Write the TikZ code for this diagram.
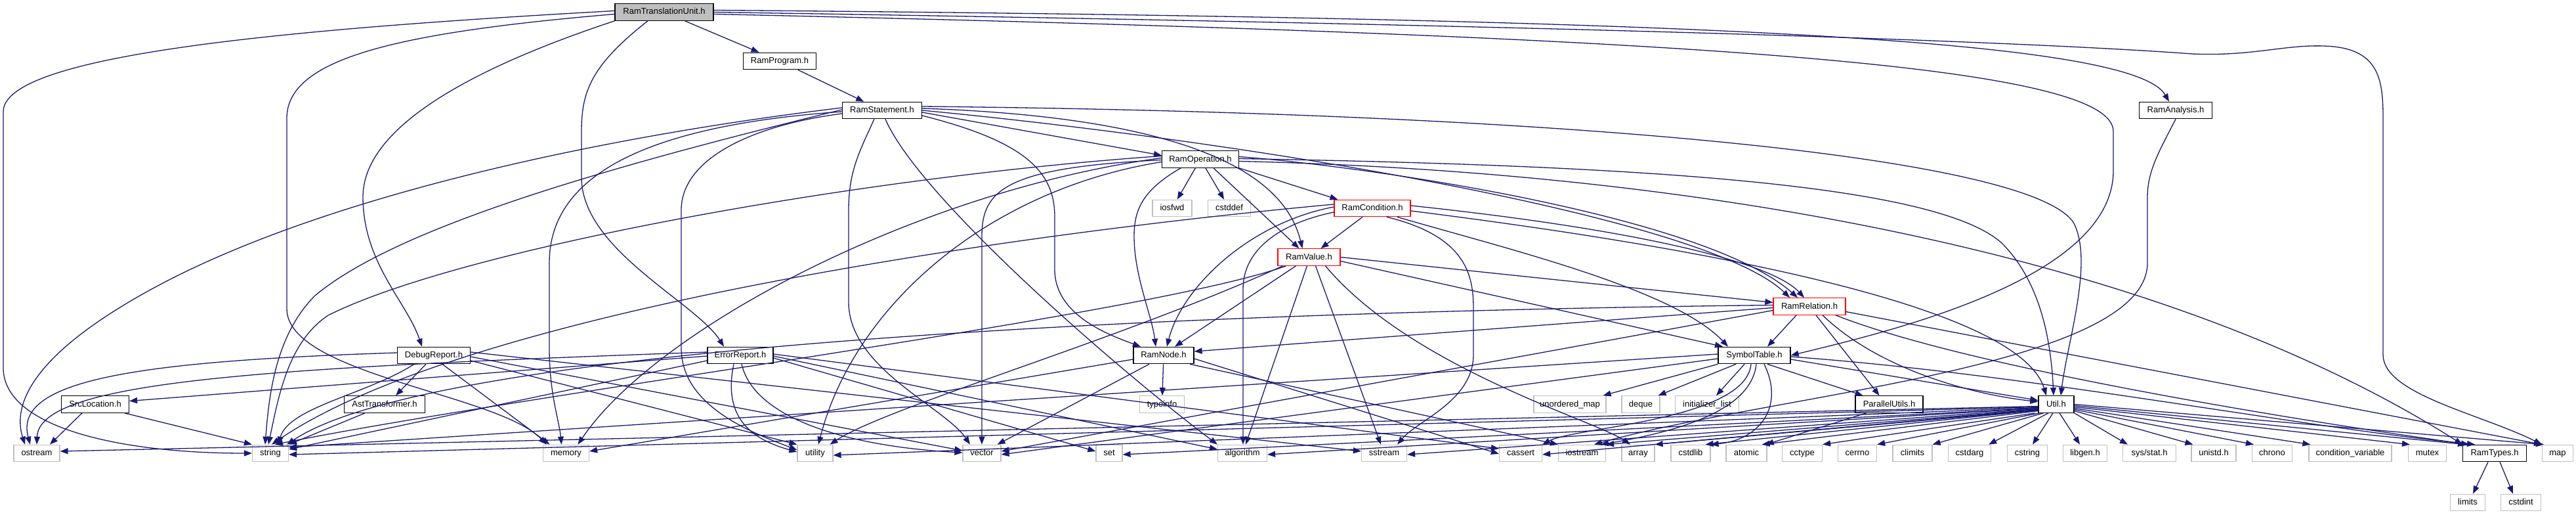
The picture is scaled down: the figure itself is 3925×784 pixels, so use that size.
\documentclass[tikz,border=0pt]{standalone}
\usepackage{fontspec}
\setmainfont{Liberation Sans}
\usetikzlibrary{arrows.meta}
\definecolor{edgec}{HTML}{191970}
\definecolor{extc}{HTML}{BFBFBF}
\definecolor{rootc}{HTML}{BFBFBF}
\tikzset{
 hdr/.style={draw=black, fill=white, line width=1.2pt, minimum height=25.5pt, inner sep=0pt, font=\fontsize{13}{15}\selectfont, text height=9.5pt, text depth=2.5pt},
 ext/.style={hdr, draw=extc},
 trunc/.style={hdr, draw=red},
 rootn/.style={hdr, fill=rootc},
 e/.style={draw=edgec, line width=1.3pt, -{Triangle[length=12pt,width=9pt]}},
}
\begin{document}
\begin{tikzpicture}[x=1pt,y=-1pt]
\useasboundingbox (0,0) rectangle (3925,784);
% ---------- nodes ----------
\node[rootn, minimum width=150pt] (tu) at (1012,18.5) {RamTranslationUnit.h};
\node[hdr, minimum width=111pt] (prog) at (1188,93) {RamProgram.h};
\node[hdr, minimum width=121pt] (stmt) at (1344,168) {RamStatement.h};
\node[hdr, minimum width=111pt] (ana) at (3315,168) {RamAnalysis.h};
\node[hdr, minimum width=117pt] (op) at (1829,242.5) {RamOperation.h};
\node[ext, minimum width=60pt] (iosfwd) at (1786,317) {iosfwd};
\node[ext, minimum width=65pt] (cstddef) at (1873,317) {cstddef};
\node[trunc, minimum width=116pt] (cond) at (2091,317) {RamCondition.h};
\node[trunc, minimum width=95pt] (val) at (1994.5,391.5) {RamValue.h};
\node[trunc, minimum width=110pt] (rel) at (2757,466.5) {RamRelation.h};
\node[hdr, minimum width=111pt] (debug) at (661,541) {DebugReport.h};
\node[hdr, minimum width=100pt] (error) at (1128,541) {ErrorReport.h};
\node[hdr, minimum width=92pt] (node) at (1773,541) {RamNode.h};
\node[hdr, minimum width=110pt] (symtab) at (2673,541) {SymbolTable.h};
\node[hdr, minimum width=103pt] (srcloc) at (145,615.5) {SrcLocation.h};
\node[hdr, minimum width=123pt] (ast) at (586,615.5) {AstTransformer.h};
\node[ext, minimum width=68pt] (typeinfo) at (1770.5,615.5) {typeinfo};
\node[ext, minimum width=110pt] (umap) at (2392,615.5) {unordered\_map};
\node[ext, minimum width=58pt] (deque) at (2500,615.5) {deque};
\node[ext, minimum width=97pt] (initlist) at (2601,615.5) {initializer\_list};
\node[hdr, minimum width=103pt] (par) at (2878.5,615.5) {ParallelUtils.h};
\node[hdr, minimum width=54pt] (util) at (3133,615.5) {Util.h};
\node[ext, minimum width=70pt] (ostream) at (56,690) {ostream};
\node[ext, minimum width=55pt] (string) at (412,690) {string};
\node[ext, minimum width=70pt] (memory) at (862.5,690) {memory};
\node[ext, minimum width=54pt] (utility) at (1242,690) {utility};
\node[ext, minimum width=58pt] (vector) at (1496,690) {vector};
\node[ext, minimum width=40pt] (set) at (1690,690) {set};
\node[ext, minimum width=75pt] (algorithm) at (1893,690) {algorithm};
\node[ext, minimum width=69pt] (sstream) at (2109,690) {sstream};
\node[ext, minimum width=65pt] (cassert) at (2317,690) {cassert};
\node[ext, minimum width=72pt] (iostream) at (2410.5,690) {iostream};
\node[ext, minimum width=50pt] (array) at (2496,690) {array};
\node[ext, minimum width=60pt] (cstdlib) at (2576,690) {cstdlib};
\node[ext, minimum width=62pt] (atomic) at (2661,690) {atomic};
\node[ext, minimum width=61pt] (cctype) at (2746,690) {cctype};
\node[ext, minimum width=59pt] (cerrno) at (2830,690) {cerrno};
\node[ext, minimum width=60pt] (climits) at (2914,690) {climits};
\node[ext, minimum width=65pt] (cstdarg) at (3001,690) {cstdarg};
\node[ext, minimum width=61pt] (cstring) at (3089,690) {cstring};
\node[ext, minimum width=67pt] (libgen) at (3177,690) {libgen.h};
\node[ext, minimum width=81pt] (sysstat) at (3275,690) {sys/stat.h};
\node[ext, minimum width=68pt] (unistd) at (3373,690) {unistd.h};
\node[ext, minimum width=61pt] (chrono) at (3462,690) {chrono};
\node[ext, minimum width=126pt] (condvar) at (3581,690) {condition\_variable};
\node[ext, minimum width=58pt] (mutex) at (3698.5,690) {mutex};
\node[hdr, minimum width=97pt] (ramtypes) at (3801,690) {RamTypes.h};
\node[ext, minimum width=47pt] (map) at (3897,690) {map};
\node[ext, minimum width=53pt] (limits) at (3760,765) {limits};
\node[ext, minimum width=61pt] (cstdint) at (3841,765) {cstdint};
% ---------- RamTranslationUnit ----------
\draw[e] (tu) -- (prog);
\draw[e] ([yshift=2pt]tu.west) .. controls (420,45) and (5,85) .. (5,170) -- (5,560) .. controls (5,650) and (180,690) .. (string.west);
\draw[e] ([yshift=-3pt]tu.west) .. controls (600,50) and (437,90) .. (437,180) -- (437,470) .. controls (437,570) and (760,600) .. ([xshift=-30pt]memory.north);
\draw[e] (tu.south west) .. controls (700,110) and (553,200) .. (553,300) .. controls (553,400) and (620,460) .. ([xshift=-18pt]debug.north);
\draw[e] ([xshift=-25pt]tu.south) .. controls (900,100) and (886,140) .. (886,200) -- (886,270) .. controls (886,380) and (1060,460) .. ([xshift=-25pt]error.north);
\draw[e] ([yshift=3pt]tu.east) .. controls (2600,28) and (3250,60) .. ([xshift=-10pt]ana.north);
\draw[e] (tu.east) .. controls (2600,42) and (3150,68) .. (3340,82) .. controls (3430,86) and (3480,68) .. (3540,70) .. controls (3625,72) and (3631,120) .. (3631,180) -- (3631,540) .. controls (3631,600) and (3780,630) .. (map.north west);
\draw[e] ([yshift=-3pt]tu.east) .. controls (2600,55) and (3220,100) .. (3220,200) -- (3220,260) .. controls (3220,420) and (2900,500) .. (symtab.east);
\draw[e] (prog) -- (stmt);
% ---------- RamStatement ----------
\draw[e] ([yshift=6pt]stmt.east) .. controls (2400,172) and (3100,240) .. (3160,340) .. controls (3190,400) and (3150,520) .. ([xshift=7pt]util.north);
\draw[e] ([yshift=3pt]stmt.east) .. controls (1850,180) and (1960,280) .. ([xshift=-10pt]val.north);
\draw[e] (stmt.east) .. controls (1900,215) and (2600,330) .. ([xshift=-30pt]rel.north);
\draw[e] ([yshift=-3pt]stmt.east) -- ([yshift=6pt]op.west);
\draw[e] ([yshift=-8pt]stmt.east) .. controls (1560,215) and (1607,260) .. (1607,330) -- (1607,410) .. controls (1607,480) and (1690,510) .. ([xshift=-35pt]node.north);
\draw[e] ([xshift=5pt]stmt.south) .. controls (1400,300) and (1700,560) .. (algorithm.north west);
\draw[e] ([xshift=-12pt]stmt.south) .. controls (1310,230) and (1293,260) .. (1293,320) -- (1293,460) .. controls (1293,560) and (1440,620) .. ([xshift=-18pt]vector.north);
\draw[e] ([yshift=-2pt]stmt.west) .. controls (1000,190) and (837,260) .. (837,400) -- (837,530) .. controls (837,600) and (852,640) .. ([xshift=-7pt]memory.north);
\draw[e] ([yshift=-5pt]stmt.west) .. controls (1150,190) and (1038,240) .. (1038,320) -- (1038,530) .. controls (1038,620) and (1150,660) .. ([yshift=5pt]utility.west);
\draw[e] ([yshift=4pt]stmt.west) .. controls (900,210) and (500,300) .. (250,430) .. controls (40,540) and (20,620) .. ([xshift=-18pt]ostream.north);
\draw[e] ([yshift=1pt]stmt.west) .. controls (900,260) and (600,350) .. (480,450) .. controls (420,510) and (410,600) .. ([xshift=-8pt]string.north);
% ---------- RamOperation ----------
\draw[e] (op) -- (iosfwd);
\draw[e] (op) -- (cstddef);
\draw[e] (op.south east) -- ([xshift=6pt]cond.north west);
\draw[e] ([xshift=20pt]op.south) -- ([xshift=-15pt]val.north);
\draw[e] ([xshift=-30pt]op.south) .. controls (1740,290) and (1728,320) .. (1728,360) .. controls (1728,420) and (1755,480) .. ([xshift=-12pt]node.north);
\draw[e] ([yshift=4pt]op.east) .. controls (2100,255) and (2600,330) .. ([xshift=-18pt]rel.north);
\draw[e] ([yshift=1pt]op.east) .. controls (2500,252) and (2950,280) .. (3050,370) .. controls (3110,430) and (3125,520) .. ([xshift=-4pt]util.north);
\draw[e] ([yshift=-3pt]op.east) .. controls (2600,262) and (3300,390) .. (ramtypes.north west);
\draw[e] ([yshift=5pt]op.west) .. controls (1300,270) and (700,380) .. (500,480) .. controls (440,520) and (425,600) .. ([xshift=-3pt]string.north);
\draw[e] ([yshift=2pt]op.west) .. controls (1400,290) and (1000,500) .. ([xshift=18pt]memory.north);
\draw[e] ([yshift=-1pt]op.west) .. controls (1530,255) and (1496,290) .. (1496,360) -- (vector.north);
\draw[e] ([yshift=-4pt]op.west) .. controls (1500,290) and (1300,470) .. ([xshift=5pt]utility.north);
% ---------- RamCondition ----------
\draw[e] ([xshift=-15pt]cond.south) -- ([xshift=18pt]val.north);
\draw[e] ([yshift=4pt]cond.east) .. controls (2500,350) and (2700,400) .. ([xshift=-8pt]rel.north);
\draw[e] ([yshift=-4pt]cond.east) .. controls (2700,390) and (3080,480) .. ([xshift=-15pt]util.north);
\draw[e] ([xshift=38pt]cond.south) .. controls (2300,380) and (2550,440) .. ([xshift=-40pt]symtab.north);
\draw[e] ([xshift=22pt]cond.south) .. controls (2235,360) and (2245,420) .. (2245,470) -- (2245,540) .. controls (2245,610) and (2160,640) .. ([xshift=20pt]sstream.north);
\draw[e] ([yshift=2pt]cond.west) .. controls (1900,340) and (1800,440) .. ([xshift=5pt]node.north);
\draw[e] ([yshift=-6pt]cond.west) .. controls (1950,340) and (1894,380) .. (1894,440) -- ([xshift=1pt]algorithm.north);
\draw[e] ([yshift=6pt]cond.west) .. controls (1500,360) and (700,480) .. ([xshift=2pt]string.north);
% ---------- RamValue ----------
\draw[e] ([xshift=-20pt]val.south) -- ([xshift=17pt]node.north);
\draw[e] (val.east) -- ([yshift=6pt]rel.west);
\draw[e] ([yshift=-6pt]val.east) -- ([xshift=-48pt]symtab.north);
\draw[e] ([xshift=-3pt]val.south) -- ([xshift=5pt]algorithm.north);
\draw[e] ([xshift=10pt]val.south) -- ([xshift=-5pt]sstream.north);
\draw[e] ([xshift=25pt]val.south) .. controls (2150,560) and (2430,640) .. ([xshift=-12pt]array.north);
\draw[e] ([xshift=-35pt]val.south) .. controls (1750,480) and (800,600) .. ([xshift=7pt]string.north);
\draw[e] ([xshift=-40pt]val.south) .. controls (1700,520) and (1350,620) .. ([xshift=-5pt]utility.north east);
% ---------- RamRelation ----------
\draw[e] ([xshift=-20pt]rel.south) -- ([xshift=20pt]symtab.north);
\draw[e] ([xshift=10pt]rel.south) -- ([xshift=-15pt]par.north);
\draw[e] ([xshift=20pt]rel.south) .. controls (2860,560) and (3000,600) .. ([yshift=4pt]util.west);
\draw[e] ([xshift=40pt]rel.south) .. controls (3000,560) and (3500,640) .. ([xshift=10pt]ramtypes.north west);
\draw[e] ([yshift=-8pt]rel.east) -- (map.north west);
\draw[e] ([yshift=-2pt]rel.west) -- ([yshift=6pt]node.east);
\draw[e] ([yshift=2pt]rel.west) .. controls (2200,470) and (700,500) .. ([xshift=-3pt]string.north east);
\draw[e] ([yshift=-6pt]rel.west) -- ([yshift=3pt]vector.east);
% ---------- SymbolTable ----------
\draw[e] (symtab.south west) -- ([xshift=-5pt]umap.north east);
\draw[e] ([xshift=-28pt]symtab.south) -- ([xshift=-3pt]deque.north east);
\draw[e] ([xshift=-15pt]symtab.south) -- ([xshift=14pt]initlist.north);
\draw[e] ([xshift=20pt]symtab.south) -- ([xshift=-40pt]par.north);
\draw[e] ([yshift=-6pt]symtab.east) -- ([yshift=6pt]util.west);
\draw[e] ([yshift=-2pt]symtab.east) .. controls (3100,570) and (3500,650) .. ([xshift=-30pt]ramtypes.north);
\draw[e] ([xshift=15pt]symtab.south) .. controls (2720,620) and (2680,670) .. (cstdlib.north east);
\draw[e] ([xshift=3pt]symtab.south) .. controls (2670,610) and (2600,650) .. ([xshift=-8pt]iostream.north east);
\draw[e] ([xshift=-5pt]symtab.south) .. controls (2660,640) and (2400,650) .. (cassert.north east);
\draw[e] ([yshift=-5pt]symtab.west) -- ([yshift=-2pt]vector.east);
\draw[e] ([yshift=2pt]symtab.west) -- ([yshift=9pt]string.east);
% ---------- ParallelUtils ----------
\draw[e] ([xshift=-35pt]par.south) -- ([xshift=-2pt]atomic.north east);
% ---------- Util ----------
\draw[e] ([yshift=-3pt]util.west) -- ([yshift=3pt]ostream.east);
\draw[e] ([yshift=-4pt]util.west) -- ([yshift=-2pt]string.east);
\draw[e] ([yshift=-5pt]util.west) -- ([yshift=-3pt]utility.east);
\draw[e] ([yshift=-6pt]util.west) -- ([yshift=-2pt]set.east);
\draw[e] ([yshift=-6pt]util.west) -- ([yshift=-2pt]algorithm.east);
\draw[e] ([yshift=-7pt]util.west) -- ([yshift=-2pt]sstream.east);
\draw[e] ([yshift=-8pt]util.west) -- ([yshift=-2pt]cassert.east);
\draw[e] ([yshift=-8pt]util.west) -- (iostream.north east);
\draw[e] ([yshift=-9pt]util.west) -- (array.north east);
\draw[e] ([yshift=-9pt]util.west) -- ([xshift=-8pt]cstdlib.north east);
\draw[e] ([yshift=-10pt]util.west) -- ([xshift=-8pt]atomic.north east);
\draw[e] ([xshift=-5pt]util.south west) -- (cctype.north east);
\draw[e] ([xshift=2pt]util.south west) -- (cerrno.north east);
\draw[e] ([xshift=8pt]util.south west) -- (climits.north east);
\draw[e] ([xshift=-12pt]util.south) -- ([xshift=-4pt]cstdarg.north east);
\draw[e] ([xshift=-5pt]util.south) -- ([xshift=8pt]cstring.north);
\draw[e] ([xshift=5pt]util.south) -- ([xshift=-8pt]libgen.north);
\draw[e] (util.south east) -- ([xshift=8pt]sysstat.north west);
\draw[e] ([yshift=-10pt]util.east) -- ([xshift=3pt]unistd.north west);
\draw[e] ([yshift=-8pt]util.east) -- ([xshift=3pt]chrono.north west);
\draw[e] ([yshift=-6pt]util.east) -- ([xshift=3pt]condvar.north west);
\draw[e] ([yshift=-4pt]util.east) -- ([xshift=3pt]mutex.north west);
\draw[e] ([yshift=-2pt]util.east) -- ([xshift=5pt]ramtypes.north west);
\draw[e] (util.east) -- ([xshift=3pt]map.north west);
% ---------- RamTypes ----------
\draw[e] ([xshift=-10pt]ramtypes.south) -- ([xshift=8pt]limits.north);
\draw[e] ([xshift=8pt]ramtypes.south) -- ([xshift=-12pt]cstdint.north);
% ---------- SrcLocation / AstTransformer ----------
\draw[e] ([xshift=-20pt]srcloc.south) -- ([xshift=20pt]ostream.north);
\draw[e] ([xshift=45pt]srcloc.south) -- (string.north west);
\draw[e] ([xshift=-30pt]ast.south) -- (string.north east);
% ---------- RamNode ----------
\draw[e] (node) -- (typeinfo);
\draw[e] ([xshift=-22pt]node.south) -- ([xshift=-6pt]vector.north east);
\draw[e] ([yshift=-6pt]node.west) -- ([yshift=3pt]memory.east);
\draw[e] ([yshift=-5pt]node.east) -- ([yshift=-1pt]cassert.west);
\draw[e] ([xshift=40pt]node.south) -- (iostream.north west);
% ---------- DebugReport ----------
\draw[e] ([yshift=4pt]debug.west) .. controls (200,550) and (20,580) .. ([xshift=-10pt]ostream.north);
\draw[e] ([xshift=-30pt]debug.south) .. controls (560,600) and (440,620) .. ([xshift=12pt]string.north);
\draw[e] ([xshift=-12pt]debug.south) -- ([xshift=17pt]ast.north);
\draw[e] ([xshift=13pt]debug.south) -- ([xshift=-25pt]memory.north);
\draw[e] ([yshift=5pt]debug.east) -- ([yshift=3pt]sstream.west);
\draw[e] ([yshift=-2pt]debug.east) -- ([yshift=4pt]vector.west);
\draw[e] ([yshift=-8pt]debug.east) -- (utility.north west);
% ---------- ErrorReport ----------
\draw[e] ([yshift=-1pt]error.west) -- ([yshift=5pt]srcloc.east);
\draw[e] ([yshift=5pt]error.west) .. controls (400,560) and (60,580) .. (ostream.north);
\draw[e] ([yshift=-8pt]error.west) -- ([yshift=6pt]string.east);
\draw[e] ([xshift=-10pt]error.south) .. controls (1100,640) and (1150,670) .. ([yshift=2pt]utility.west);
\draw[e] ([xshift=2pt]error.south) .. controls (1150,640) and (1300,680) .. ([yshift=1pt]vector.west);
\draw[e] ([yshift=-4pt]error.east) -- ([yshift=3pt]set.west);
\draw[e] ([yshift=-1pt]error.east) -- ([yshift=6pt]algorithm.west);
\draw[e] ([yshift=2pt]error.east) -- ([yshift=7pt]cassert.west);
% ---------- RamAnalysis ----------
\draw[e] (ana.south) .. controls (3290,230) and (3272,260) .. (3272,300) -- (3272,400) .. controls (3272,560) and (2700,600) .. ([xshift=-18pt]iostream.north east);
\end{tikzpicture}
\end{document}
